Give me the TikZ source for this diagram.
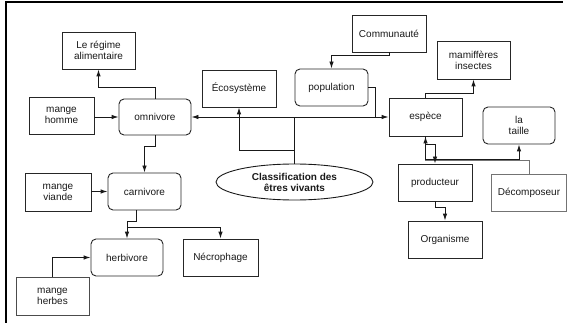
\documentclass[tikz,border=0pt]{standalone}
\usepackage{fontspec}
\setmainfont{Liberation Sans}
\usetikzlibrary{arrows.meta,shapes.geometric,calc}
\begin{document}
\begin{tikzpicture}[x=1pt,y=-1pt,
  every node/.style={font=\fontsize{10}{11}\selectfont, align=center, inner sep=0pt, text=black!90},
  box/.style={draw=black!85, line width=0.9pt, rectangle, minimum width=#1, minimum height=37pt},
  box/.default=73pt,
  rbox/.style={box=#1, rounded corners=5pt},
  rbox/.default=73pt,
  gbox/.style={draw=black!55, line width=0.9pt, rectangle, minimum width=75pt, minimum height=37pt},
  link/.style={draw=black!90, line width=0.9pt},
  glink/.style={link, draw=black!55},
  arr/.style={link, -{Latex[length=7pt,width=4.5pt]}}]
\useasboundingbox (0,0) rectangle (567,323);
% frame
\draw[line width=2.4pt] (6,323) -- (6,2) -- (563,2);

% nodes
\node[box] (regime) at (98.5,50.5) {Le régime\\alimentaire};
\node[box=65pt] (mhomme) at (61.5,115.5) {mange\\homme};
\node[rbox=72pt, minimum height=36pt] (omni) at (155,117) {omnivore};
\node[box=74pt] (eco) at (239,88.5) {Écosystème};
\node[rbox] (pop) at (331.5,87.5) {population};
\node[box=74pt] (comm) at (389,33.5) {Communauté};
\node[box, minimum height=38pt] (mam) at (473.5,60) {mamiffères\\insectes};
\node[box, minimum height=38pt] (espece) at (425.5,117) {espèce};
\node[rbox=72pt] (taille) at (519,125.5) {la\\taille};
\node[draw=black!90, line width=0.9pt, ellipse, minimum width=157pt, minimum height=36pt,
      font=\fontsize{10}{11}\selectfont\bfseries] (classif) at (294.5,182) {Classification des\\êtres vivants};
\node[box=66pt, minimum height=38pt] (mviande) at (58,192) {mange\\viande};
\node[rbox] (carni) at (144.5,191.5) {carnivore};
\node[box=74pt] (prod) at (435,182.5) {producteur};
\node[gbox] (decomp) at (529,192.5) {Décomposeur};
\node[box=74pt] (organ) at (445,239.5) {Organisme};
\node[rbox=72pt] (herbi) at (127,257.5) {herbivore};
\node[box=75pt] (necro) at (220.5,257.5) {Nécrophage};
\node[box, minimum height=38pt, draw=black!70] (mherbes) at (52.5,296) {mange\\herbes};

% junctions
\coordinate (hub) at (classif.north |- omni.east);
\coordinate (popj) at (375,117);

% connectors
\draw[arr] (omni.north) -- ++(0,-11) -| (regime.south);
\draw[arr] (omni.west -| mhomme.east) -- (omni.west);
\draw[link] (classif.north) -- (hub);
\draw[arr] (hub) -- (omni.east);
\draw[arr] (hub) -- (espece.west);
\draw[arr] (classif.north) ++(0,-13) -| (eco.south);
\draw[link] (pop.east) -| (popj);
\draw[arr] (comm.south) -- ++(0,3) -| (pop.north);
\draw[arr] (espece.north) -- ++(0,-4) -| (mam.south);
\draw[glink] (decomp.north) -- ++(0,-13) -| ($(espece.south)+(0,10)$);
\draw[arr] ($(espece.south)+(0,12)$) -- (espece.south);
\draw[arr] (espece.south) -- ++(0,8) -| (prod.north);
\draw[arr] (espece.south) -- ++(0,23) -| (taille.south);
\draw[arr] (prod.south) -- ++(0,6) -| (organ.north);
\draw[arr] (omni.south) -- ++(0,11) -| (carni.north);
\draw[arr] (carni.west -| mviande.east) -- (carni.west);
\draw[arr] ($(carni.south)+(-8.5,0)$) -- ++(0,11) -| (herbi.north);
\draw[arr] ($(herbi.north)+(0,-11)$) -| (necro.north);
\draw[arr] (mherbes.north) |- (herbi.west);
\end{tikzpicture}
\end{document}
